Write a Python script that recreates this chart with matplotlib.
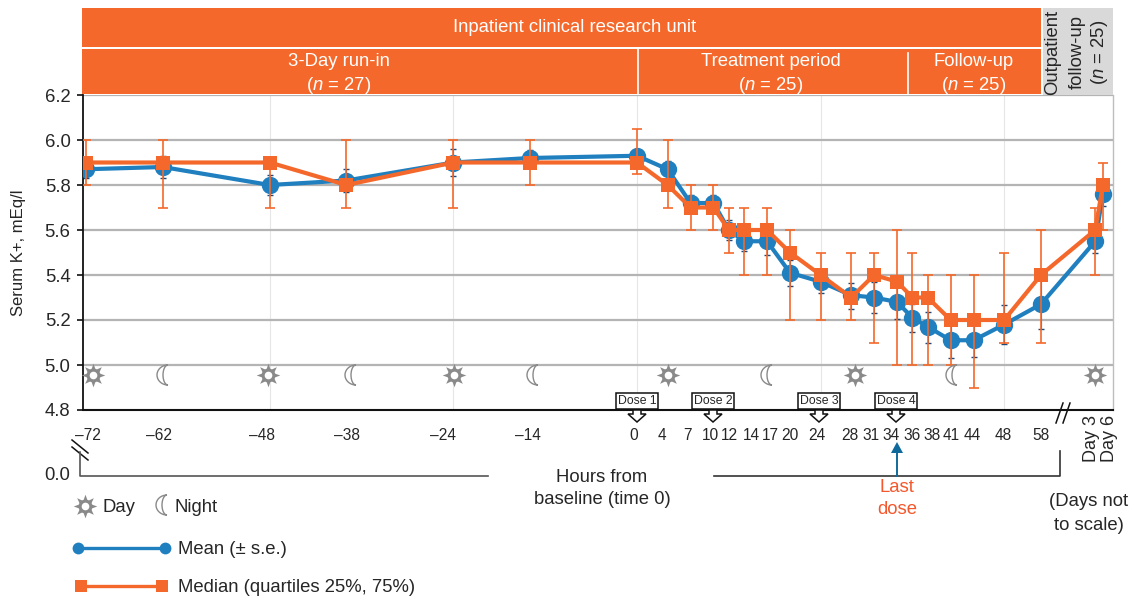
import matplotlib
matplotlib.use("Agg")
import matplotlib.pyplot as plt
from matplotlib.patches import Rectangle, Polygon
import numpy as np

plt.rcParams['font.family'] = ['Liberation Sans', 'DejaVu Sans']
plt.rcParams['mathtext.fontset'] = 'custom'
plt.rcParams['mathtext.rm'] = 'Liberation Sans'
plt.rcParams['mathtext.it'] = 'Liberation Sans:italic'

# category labels and horizontal plotting positions (58 h and days are not to scale)
tick_labels = ['–72','–62','–48','–38','–24','–14','0','4','7','10','12','14','17','20','24','28','31','34','36','38','41','44','48','58','Day 3','Day 6']
hours = [-72,-62,-48,-38,-24,-14,0,4,7,10,12,14,17,20,24,28,31,34,36,38,41,44,48,52.8,59.9,60.9]

mean_vals = [5.87,5.88,5.80,5.82,5.90,5.92,5.93,5.87,5.72,5.72,5.60,5.55,5.55,5.41,5.37,5.31,5.30,5.28,5.21,5.17,5.11,5.11,5.18,5.27,5.55,5.76]
se_low = [5.83,5.83,5.755,5.77,5.84,5.89,5.90,5.83,5.69,5.69,5.555,5.505,5.49,5.35,5.32,5.25,5.23,5.205,5.145,5.10,5.03,5.035,5.095,5.16,5.50,5.705]
se_high = [5.91,5.93,5.845,5.87,5.96,5.955,5.96,5.908,5.755,5.755,5.645,5.60,5.60,5.467,5.42,5.365,5.367,5.35,5.27,5.237,5.19,5.19,5.265,5.38,5.60,5.81]

median_vals = [5.9,5.9,5.9,5.8,5.9,5.9,5.9,5.8,5.7,5.7,5.6,5.6,5.6,5.5,5.4,5.3,5.4,5.37,5.3,5.3,5.2,5.2,5.2,5.4,5.6,5.8]
q25 = [5.8,5.7,5.7,5.7,5.7,5.8,5.85,5.7,5.6,5.6,5.5,5.4,5.4,5.2,5.2,5.2,5.1,5.0,5.0,5.0,5.0,4.9,5.1,5.1,5.4,5.6]
q75 = [6.0,6.0,5.9,6.0,6.0,6.0,6.05,6.0,5.8,5.8,5.7,5.7,5.7,5.6,5.5,5.5,5.5,5.6,5.5,5.4,5.4,5.4,5.5,5.6,5.7,5.9]

ORANGE = '#F4692B'
BLUE = '#1F7FBF'
GRAY = '#8a8a8a'
TXT = '#262626'
W, H = 1133, 597

fig = plt.figure(figsize=(W/100, H/100), dpi=100)
L, R, T, B = 83, 1113, 95, 410
ax = fig.add_axes([L/W, 1-B/H, (R-L)/W, (B-T)/H])
ax.set_xlim((L-637)/7.65, (R-637)/7.65)
ax.set_ylim(4.8, 6.2)

# gridlines
for y in [5.0,5.2,5.4,5.6,5.8,6.0,6.2]:
    ax.axhline(y, color='#b4b4b4', lw=1.6, zorder=1)
for x in [-48,-24,0,24,48]:
    ax.axvline(x, color='#e6e6e6', lw=0.8, zorder=0.5)

x = np.array(hours)
m = np.array(mean_vals); md = np.array(median_vals)
ax.errorbar(x, m, yerr=[m-np.array(se_low), np.array(se_high)-m], fmt='none', ecolor='#1d4a78', elinewidth=0.8, capsize=2.4, capthick=1.0, zorder=2)
ax.plot(x, m, '-o', color=BLUE, lw=3, ms=12.5, mew=0, zorder=3)
ax.errorbar(x, md, yerr=[md-np.array(q25), np.array(q75)-md], fmt='none', ecolor=ORANGE, elinewidth=1.2, capsize=3.6, capthick=1.2, zorder=4)
ax.plot(x, md, '-s', color=ORANGE, lw=3, ms=10, mew=0, zorder=5)

for s in ['top']:
    ax.spines[s].set_visible(False)
ax.spines['right'].set_color('#bdbdbd'); ax.spines['right'].set_linewidth(1)
ax.spines['left'].set_color('#111111'); ax.spines['left'].set_linewidth(1.3)
ax.spines['bottom'].set_color('#111111'); ax.spines['bottom'].set_linewidth(1.5)
ax.set_xticks([])
ax.set_yticks([4.8,5.0,5.2,5.4,5.6,5.8,6.0,6.2])
ax.set_yticklabels(['4.8','5.0','5.2','5.4','5.6','5.8','6.0','6.2'], fontsize=13.3, color=TXT)
ax.tick_params(axis='y', length=4, width=1.2, pad=5, color='#111111')
ax.patch.set_alpha(0)

# overlay in pixel coordinates
ov = fig.add_axes([0,0,1,1], zorder=10)
ov.set_xlim(0, W); ov.set_ylim(H, 0); ov.axis('off'); ov.patch.set_alpha(0)

# header bands
ov.add_patch(Rectangle((82,8),959,39,fc=ORANGE,ec='none'))
ov.add_patch(Rectangle((82,49),959,45,fc=ORANGE,ec='none'))
ov.add_patch(Rectangle((1043,8),70,87,fc='#d9d9d9',ec='none'))
ov.plot([638,638],[49,94],color='white',lw=1.2)
ov.plot([908,908],[53,94],color='white',lw=1.2)
hd = dict(color='white', fontsize=13.3, ha='center', va='center')
ov.text(575,28,'Inpatient clinical research unit',**hd)
ov.text(339,61,'3-Day run-in',**hd); ov.text(339,85,r'($\it{n}$ = 27)',**hd)
ov.text(771,61,'Treatment period',**hd); ov.text(771,85,r'($\it{n}$ = 25)',**hd)
ov.text(974,61,'Follow-up',**hd); ov.text(974,85,r'($\it{n}$ = 25)',**hd)
rt = dict(color=TXT, fontsize=13.3, ha='center', va='center', rotation=90)
ov.text(1053,52,'Outpatient',**rt)
ov.text(1077,52,'follow-up',**rt)
ov.text(1099,52,r'($\it{n}$ = 25)',**rt)

ov.text(19,253,'Serum K+, mEq/l',rotation=90,fontsize=12,color=TXT,ha='center',va='center')

# x tick labels
label_x = [88,159,262,347,443,528,634,662,687,710,729,751,770,790,817,850,871,891,912,932,951,972,1003,1041]
for lx, lab in zip(label_x, tick_labels[:24]):
    ov.text(lx,435,lab,fontsize=11.2,color=TXT,ha='center',va='center')
ov.text(1092,438,tick_labels[24],fontsize=13,color=TXT,ha='center',va='center',rotation=90)
ov.text(1110,438,tick_labels[25],fontsize=13,color=TXT,ha='center',va='center',rotation=90)

# dose boxes and hollow arrows
for cx, lab in zip([637,713,819,896],['Dose 1','Dose 2','Dose 3','Dose 4']):
    ov.add_patch(Rectangle((cx-21,393),42,16,fc='white',ec='#111111',lw=1.1,zorder=3))
    ov.text(cx,401,lab,fontsize=8.8,color=TXT,ha='center',va='center',zorder=4)
    ov.add_patch(Polygon([(cx-4,410),(cx+4,410),(cx+4,414),(cx+9,414),(cx,422),(cx-9,414),(cx-4,414)],closed=True,fc='white',ec='#111111',lw=1.1,zorder=3))

# axis breaks and bracket
for dx in (0,7):
    ov.plot([1056+dx,1063+dx],[423,403],color='#111111',lw=1.1)
    ov.plot([72,88],[440+dx,453+dx],color='#111111',lw=1.1)
ov.plot([80,80,488],[452,476,476],color='#555555',lw=1.2)
ov.plot([714,1060,1060],[476,476,451],color='#333333',lw=1.2)
ov.text(70,475,'0.0',fontsize=13.3,color=TXT,ha='right',va='center')

# last dose
ov.plot([897,897],[476,452],color='#0f6a9c',lw=1.4)
ov.add_patch(Polygon([(891,453),(903,453),(897,442)],closed=True,fc='#0f6a9c',ec='none'))
ov.text(897,488,'Last',fontsize=13.3,color='#F4572B',ha='center',va='center')
ov.text(897,510,'dose',fontsize=13.3,color='#F4572B',ha='center',va='center')

tx = dict(fontsize=13.3, color=TXT, va='center')
ov.text(602,477,'Hours from',ha='center',**tx)
ov.text(602,499,'baseline (time 0)',ha='center',**tx)
ov.text(1089,502,'(Days not',ha='center',**tx)
ov.text(1089,525,'to scale)',ha='center',**tx)

# sun & moon icons
def sun(cx, cy):
    ov.plot([cx],[cy],marker=(8,1,0),ms=17,color=GRAY,mew=0,zorder=3)
    ov.plot([cx],[cy],marker='o',ms=10,color=GRAY,mew=0,zorder=3)
    ov.plot([cx],[cy],marker='o',ms=5.5,color='white',mew=0,zorder=4)
def moon(cx, cy):
    a = np.radians(np.linspace(-90,90,30))
    ox = cx+5-11*np.cos(a); oy = cy+10*np.sin(a)
    ix = cx+5-5*np.cos(a[::-1]); iy = cy+10*np.sin(a[::-1])
    ov.add_patch(Polygon(np.column_stack([np.r_[ox,ix],np.r_[oy,iy]]),closed=True,fc='white',ec=GRAY,lw=1))
for c in [93,268,454,668,855,1095]:
    sun(c,375)
for c in [163,351,533,767,952]:
    moon(c,375)
sun(85,506); ov.text(102,507,'Day',**tx)
moon(162,505); ov.text(175,507,'Night',**tx)

# legend
ov.plot([78,165],[548,548],'-o',color=BLUE,lw=2.4,ms=8.5,mew=0)
ov.text(178,549,'Mean (± s.e.)',**tx)
ov.plot([81,162],[586,586],'-s',color=ORANGE,lw=2.4,ms=8,mew=0)
ov.text(178,587,'Median (quartiles 25%, 75%)',**tx)

fig.savefig('out.png',dpi=100)
